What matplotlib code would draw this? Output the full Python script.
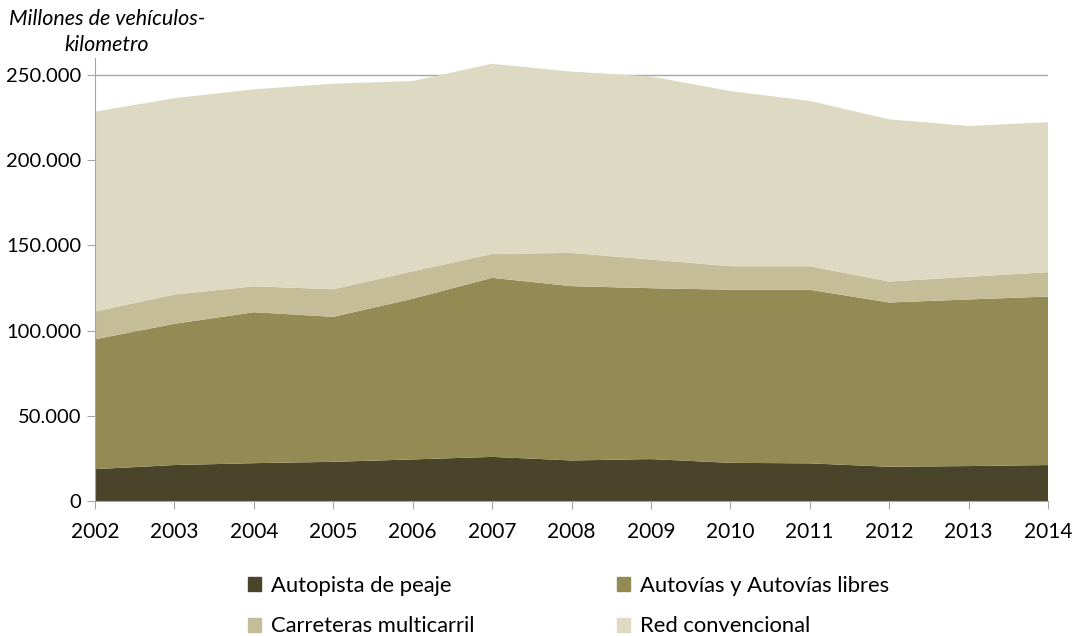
import matplotlib
matplotlib.use("Agg")
import matplotlib.pyplot as plt
from matplotlib.ticker import FuncFormatter
from matplotlib.patches import Patch

plt.rcParams['font.family'] = ['Lato', 'DejaVu Sans']

years = [2002, 2003, 2004, 2005, 2006, 2007, 2008, 2009, 2010, 2011, 2012, 2013, 2014]

# millones de vehiculos-km
autopista = [18700, 21100, 22200, 23000, 24400, 25900, 23800, 24600, 22400, 22100, 20100, 20500, 21100]
autovias = [76200, 82900, 88600, 85100, 94300, 105100, 102300, 100300, 101600, 101900, 96400, 97800, 98900]
carreteras = [16300, 17200, 15200, 16200, 16100, 14000, 19500, 16800, 13800, 13800, 12300, 13300, 14300]
red_conv = [117300, 115200, 115600, 120600, 111700, 111600, 106400, 107500, 102800, 97000, 95200, 88500, 88000]

names = ["Autopista de peaje", "Autovías y Autovías libres",
         "Carreteras multicarril", "Red convencional"]
colors = ["#4a452a", "#948a54", "#c4bd97", "#ddd9c3"]

fig = plt.figure(figsize=(10.73, 6.36), dpi=100)
ax = fig.add_axes([95 / 1073, 1 - 501 / 636, (1048 - 95) / 1073, (501 - 58) / 636])

ax.stackplot(years, autopista, autovias, carreteras, red_conv, colors=colors, zorder=2)

ax.set_xlim(2002, 2014)
ax.set_ylim(0, 260000)
ax.set_xticks(years)
ax.set_yticks(range(0, 250001, 50000))
ax.yaxis.set_major_formatter(FuncFormatter(lambda v, p: f"{int(v):,}".replace(",", ".")))

ax.grid(axis="y", color="#a6a6a6", linewidth=1, zorder=0)
ax.set_axisbelow(True)
for s in ["top", "right"]:
    ax.spines[s].set_visible(False)
for s in ["left", "bottom"]:
    ax.spines[s].set_color("#a6a6a6")
    ax.spines[s].set_zorder(3)
ax.tick_params(axis="both", colors="#a6a6a6", labelcolor="black", labelsize=14.5, length=6)
ax.tick_params(axis="x", labelsize=15, pad=9)
ax.tick_params(axis="y", pad=4)

fig.text(107 / 1073, 1 - 32 / 636, "Millones de vehículos-\nkilometro", ha="center", va="center",
         fontsize=15.5, style="italic", linespacing=1.35)

handles = [Patch(color=c) for c in colors]
order = [0, 2, 1, 3]
fig.legend([handles[i] for i in order], [names[i] for i in order],
           loc="center left", bbox_to_anchor=(228 / 1073, 1 - 606 / 636), ncol=2,
           frameon=False, fontsize=15.8, handlelength=0.6, handleheight=0.6,
           handletextpad=0.45, columnspacing=6.5, labelspacing=0.95)

fig.savefig("out.png", dpi=100)
